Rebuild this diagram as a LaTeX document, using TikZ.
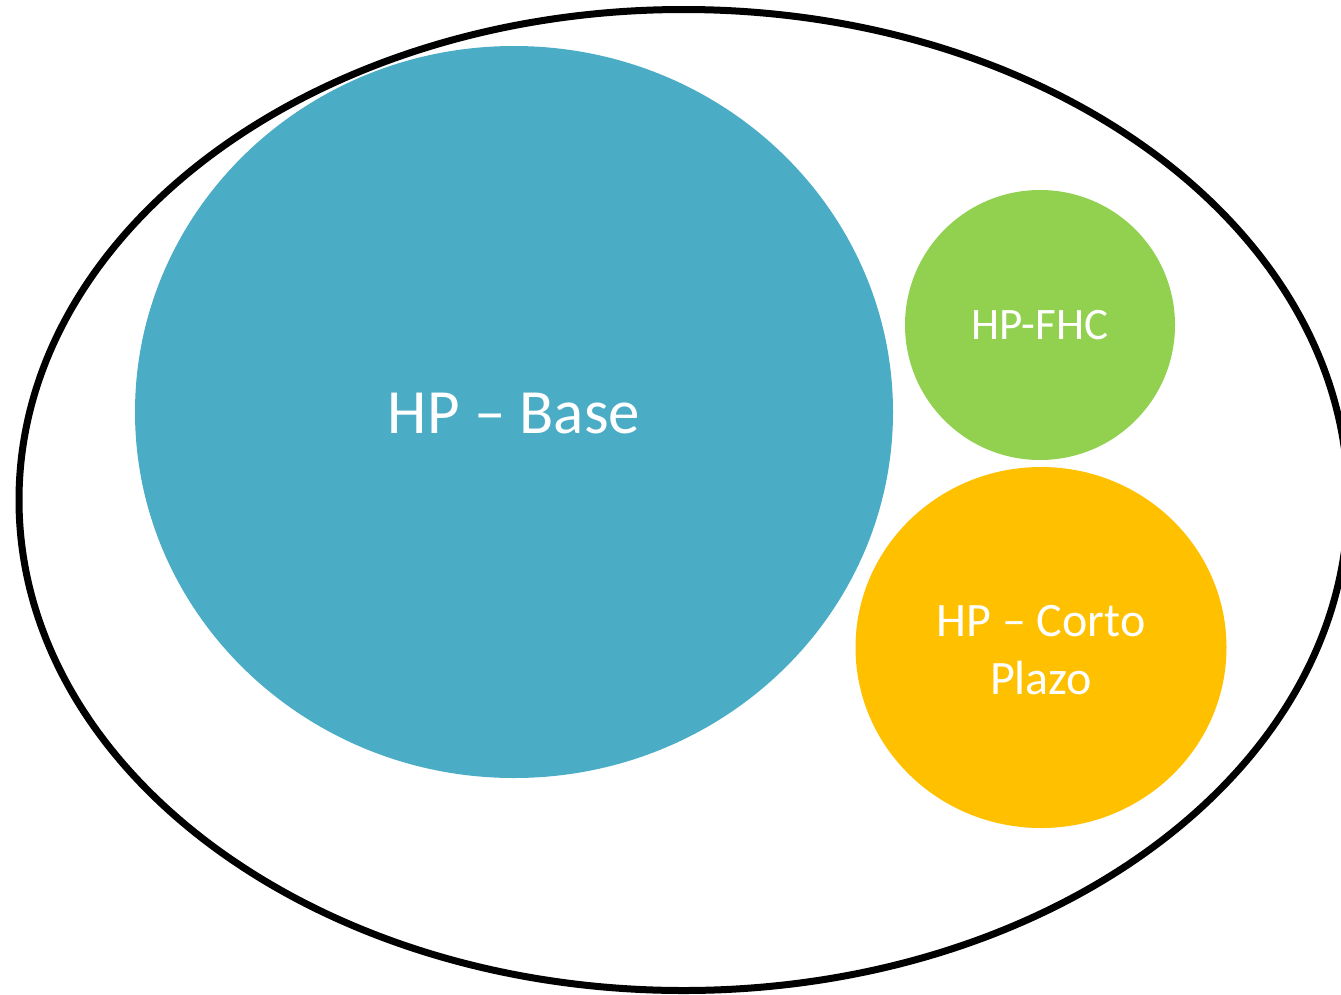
\documentclass[tikz,border=0pt]{standalone}
\usepackage{fontspec}
\setmainfont{Carlito}
\definecolor{hpblue}{HTML}{4BACC6}
\definecolor{hpgreen}{HTML}{92D050}
\definecolor{hporange}{HTML}{FFC000}
\begin{document}
\begin{tikzpicture}[x=1pt,y=-1pt,
  label text/.style={text=white, align=center},
  outerset/.style={draw=black, line width=7pt}]
\useasboundingbox (0,0) rectangle (1341,994);
% enclosing set
\draw[outerset] (683.5,500) ellipse [x radius=664.5, y radius=490.5];
% component sets
\fill[hpblue] (514,412) ellipse [x radius=379, y radius=366];
\fill[hpgreen] (1040,325) ellipse [x radius=135, y radius=135];
\fill[hporange] (1041,647.5) ellipse [x radius=185.5, y radius=180.5];
\node[label text, font=\fontsize{63}{70}\selectfont] (base) at (514,414) {HP – Base};
\node[label text, font=\fontsize{45}{52}\selectfont] (fhc) at (1040,325) {HP-FHC};
\node[label text, font=\fontsize{48}{58}\selectfont] (corto) at (1041,650) {HP – Corto\\Plazo};
\end{tikzpicture}
\end{document}
